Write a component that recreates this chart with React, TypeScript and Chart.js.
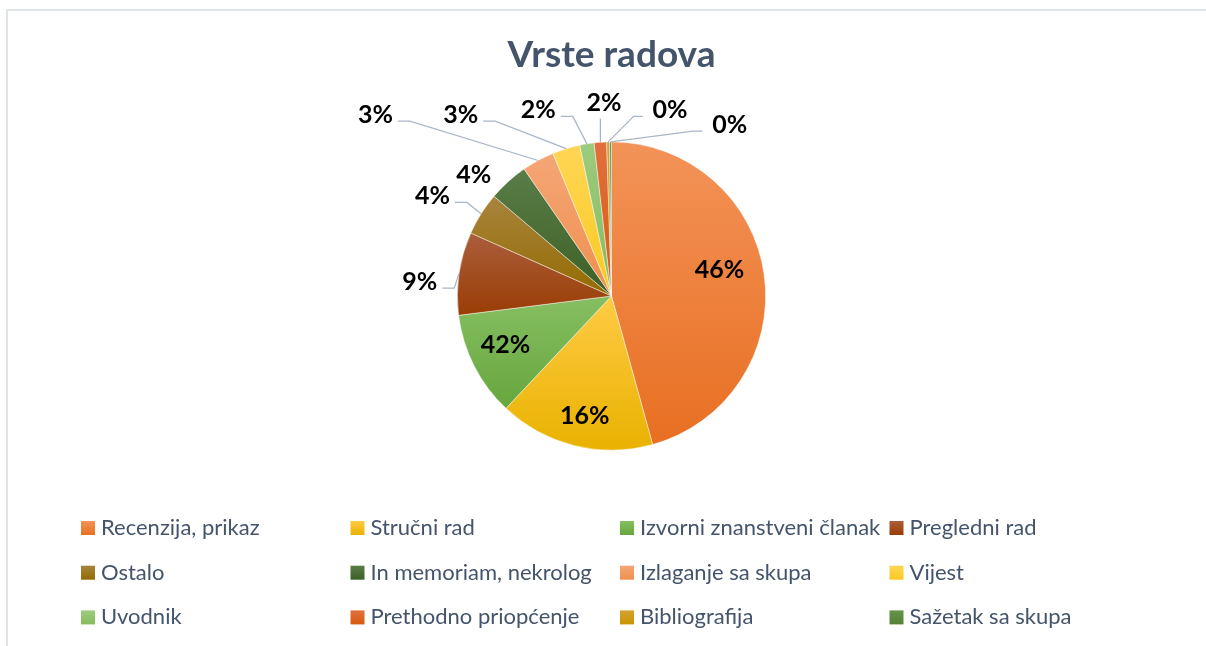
import React, { useEffect, useRef } from "react";
import { Chart, registerables } from "chart.js";

Chart.register(...registerables);

// ---------- data ----------
const chartTitle = "Vrste radova";
const categories = [
  "Recenzija, prikaz",
  "Stručni rad",
  "Izvorni znanstveni članak",
  "Pregledni rad",
  "Ostalo",
  "In memoriam, nekrolog",
  "Izlaganje sa skupa",
  "Vijest",
  "Uvodnik",
  "Prethodno priopćenje",
  "Bibliografija",
  "Sažetak sa skupa",
];
const shares = [45.7, 16.3, 11.0, 8.7, 4.5, 4.2, 3.4, 2.9, 1.5, 1.3, 0.3, 0.2];
const percentLabels = ["46%", "16%", "42%", "9%", "4%", "4%", "3%", "3%", "2%", "2%", "0%", "0%"];

// ---------- styles ----------
const topColors = [
  "#F39358", "#FFCB45", "#86BF62", "#AB5E3C", "#A8843E", "#5A7D48",
  "#F5A676", "#FFD655", "#9CCB7D", "#E2703E", "#D6A232", "#64944A",
];
const bottomColors = [
  "#E86F22", "#E9B200", "#67A63D", "#9A3D05", "#946B00", "#3B6024",
  "#EF8F4E", "#F9C920", "#86BC60", "#D65A0E", "#C89400", "#548235",
];
// label placement: inside labels relative to 0.75r centroid, outside relative to arc edge midpoint
const labelLayout = [
  { inside: true, dx: -6.5, dy: -11.3, leader: false },
  { inside: true, dx: 1, dy: 6.4, leader: false },
  { inside: true, dx: -3, dy: -4, leader: false },
  { inside: false, dx: -39.3, dy: 7.8, leader: true },
  { inside: false, dx: -48.7, dy: -18.4, leader: true },
  { inside: false, dx: -34.3, dy: -7.4, leader: false },
  { inside: false, dx: -162.7, dy: -46.3, leader: true },
  { inside: false, dx: -105.5, dy: -34.6, leader: true },
  { inside: false, dx: -48.6, dy: -34.5, leader: true },
  { inside: false, dx: 3.6, dy: -40.7, leader: true },
  { inside: false, dx: 62, dy: -32.5, leader: true },
  { inside: false, dx: 119.3, dy: -17.8, leader: true },
];
const FONT = "Lato, 'Open Sans', sans-serif";
const TEXT_COLOR = "#44546A";
const LEADER_COLOR = "#A9B6C8";

function sectorYRange(y: number, r: number, a0: number, a1: number) {
  const ys = [y, y + r * Math.sin(a0), y + r * Math.sin(a1)];
  for (const t of [-Math.PI / 2, Math.PI / 2, (3 * Math.PI) / 2]) {
    if (t >= a0 && t <= a1) ys.push(y + r * Math.sin(t));
  }
  return [Math.min(...ys), Math.max(...ys)];
}

const excelPiePlugin = {
  id: "excelPie",
  beforeDraw(chart: any) {
    const ctx = chart.ctx;
    ctx.save();
    ctx.fillStyle = "#ffffff";
    ctx.fillRect(0, 0, chart.width, chart.height);
    ctx.strokeStyle = "#DFE3EA";
    ctx.lineWidth = 2;
    ctx.strokeRect(7, 10, 1400, 1000);
    ctx.restore();
  },
  beforeDatasetsDraw(chart: any) {
    const ctx = chart.ctx;
    const meta = chart.getDatasetMeta(0);
    meta.data.forEach((arc: any, i: number) => {
      const [y0, y1] = sectorYRange(arc.y, arc.outerRadius, arc.startAngle, arc.endAngle);
      const g = ctx.createLinearGradient(0, y0, 0, Math.max(y1, y0 + 1));
      g.addColorStop(0, topColors[i]);
      g.addColorStop(1, bottomColors[i]);
      arc.options = Object.assign({}, arc.options, { backgroundColor: g });
    });
  },
  afterDraw(chart: any) {
    const ctx = chart.ctx;
    ctx.save();
    // title
    ctx.fillStyle = TEXT_COLOR;
    ctx.font = `bold 37px ${FONT}`;
    ctx.textAlign = "center";
    ctx.textBaseline = "alphabetic";
    ctx.fillText(chartTitle, 611.5, 67);

    // data labels
    const meta = chart.getDatasetMeta(0);
    ctx.font = `bold 25px ${FONT}`;
    meta.data.forEach((arc: any, i: number) => {
      const lay = labelLayout[i];
      const mid = (arc.startAngle + arc.endAngle) / 2;
      const rr = lay.inside ? arc.outerRadius * 0.75 : arc.outerRadius;
      const ex = arc.x + rr * Math.cos(mid);
      const ey = arc.y + rr * Math.sin(mid);
      const lx = ex + lay.dx;
      const ly = ey + lay.dy;
      const text = percentLabels[i];
      const w = ctx.measureText(text).width;
      if (lay.leader) {
        ctx.beginPath();
        ctx.strokeStyle = LEADER_COLOR;
        ctx.lineWidth = 1.25;
        if (Math.abs(lay.dx) < 12) {
          ctx.moveTo(ex, ly + 17);
          ctx.lineTo(ex, ey);
        } else if (lay.dx < 0) {
          const sx = lx + w / 2 + 5;
          const sy = ly + 7;
          ctx.moveTo(sx, sy);
          ctx.lineTo(sx + 12, sy);
          ctx.lineTo(ex, ey);
        } else {
          const sx = lx - w / 2 - 10;
          const sy = ly + 7;
          ctx.moveTo(sx, sy);
          ctx.lineTo(sx - 9, sy);
          ctx.lineTo(ex, ey);
        }
        ctx.stroke();
      }
      ctx.fillStyle = "#000000";
      ctx.textAlign = "center";
      ctx.fillText(text, lx, ly + 9);
    });

    // legend (4 columns x 3 rows)
    ctx.font = `22px ${FONT}`;
    ctx.textAlign = "left";
    const colX = [81, 350.5, 620, 889.5];
    const rowBase = [535, 579.7, 624.4];
    categories.forEach((name, i) => {
      const c = i % 4;
      const r = Math.floor(i / 4);
      const mx = colX[c];
      const my = rowBase[r] - 14;
      const g = ctx.createLinearGradient(0, my, 0, my + 14);
      g.addColorStop(0, topColors[i]);
      g.addColorStop(1, bottomColors[i]);
      ctx.fillStyle = g;
      ctx.fillRect(mx, my, 14, 14);
      ctx.fillStyle = TEXT_COLOR;
      ctx.fillText(name, mx + 20, rowBase[r]);
    });
    ctx.restore();
  },
};

export default function App() {
  const canvasRef = useRef<HTMLCanvasElement | null>(null);

  useEffect(() => {
    document.body.style.margin = "0";
    const canvas = canvasRef.current;
    if (!canvas) return;
    const chart = new Chart(canvas, {
      type: "pie",
      data: {
        labels: categories,
        datasets: [
          {
            data: shares,
            backgroundColor: topColors,
            borderColor: "rgba(255,255,255,0.6)",
            borderWidth: 0.75,
          },
        ],
      },
      options: {
        responsive: false,
        animation: false,
        layout: { padding: { left: 17, right: 0, top: 141.5, bottom: 195.5 } },
        plugins: {
          legend: { display: false },
          title: { display: false },
          tooltip: { enabled: false },
        },
      },
      plugins: [excelPiePlugin],
    });
    return () => chart.destroy();
  }, []);

  return (
    <div style={{ width: 1206, height: 646, position: "relative", background: "#fff" }}>
      <canvas ref={canvasRef} width={1206} height={646} style={{ width: 1206, height: 646, display: "block" }} />
    </div>
  );
}
